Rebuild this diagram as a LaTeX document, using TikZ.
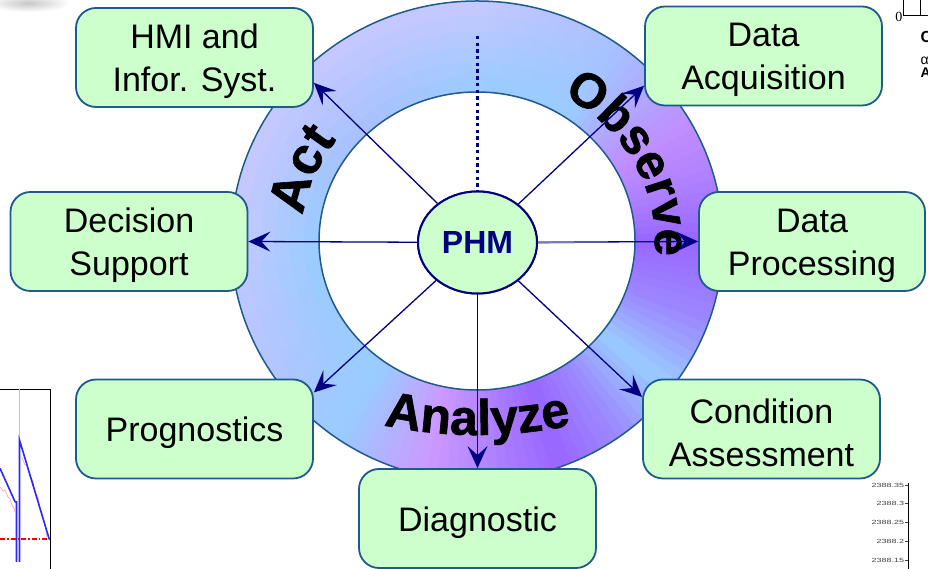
\documentclass[tikz,border=0pt]{standalone}
\usepackage{fontspec}
\setmainfont{Liberation Sans}
\newfontfamily\axisserif{Liberation Serif}
\newfontface\wordface[FakeBold=1.2]{Liberation Sans Bold}
\usetikzlibrary{arrows.meta,shapes.geometric,decorations.text}

\definecolor{navy}{HTML}{000080}
\definecolor{mint}{HTML}{CCFFCC}
\definecolor{edgeblue}{HTML}{1E5A8C}
\definecolor{haze}{HTML}{7B7BC0}
\definecolor{plotblue}{HTML}{2B2BF0}
\definecolor{plotpink}{HTML}{FFA8CC}
% ring gradient key colours
\definecolor{rV}{HTML}{9966FF}
\definecolor{rQ}{HTML}{AD80FF}
\definecolor{rS}{HTML}{C08CFF}
\definecolor{rM}{HTML}{B0A8FF}
\definecolor{rB}{HTML}{99CCFF}
\definecolor{rT}{HTML}{A8C0FF}
\definecolor{rL}{HTML}{C8C8FF}
\definecolor{rW}{HTML}{B4C4FF}
\definecolor{rP}{HTML}{CC99FF}
\definecolor{rR}{HTML}{9C88FF}

\newcommand\ringfont{\wordface\fontsize{52}{52}\selectfont}
\newcommand\ringfonto{\wordface\fontsize{49}{49}\selectfont}
\newcommand\ringfontb{\wordface\fontsize{50}{50}\selectfont}

\tikzset{
  box/.style={draw=edgeblue, line width=1.8pt, fill=mint, rounded corners=20pt,
    minimum width=237pt, minimum height=99pt, inner sep=0pt},
  boxtext/.style={inner sep=0pt, align=center, yshift=-4pt,
    font=\fontsize{34}{43}\selectfont},
  boxlabel/.style={label={[boxtext]center:{#1}}},
  hub/.style={ellipse, draw=navy, line width=2pt, fill=mint, minimum width=119pt,
    minimum height=102pt, inner sep=0pt, text=navy,
    font=\fontsize{32}{32}\selectfont\bfseries},
  spoke/.style={draw=navy, line width=1.3pt, -{Stealth[length=22pt,width=20pt,inset=9pt]}},
  ringedge/.style={draw=edgeblue, line width=1.5pt},
  ringword/.style={decorate, decoration={text along path, text align=center, text={#1}}},
  fragline/.style={draw=black, line width=0.9pt},
  ticklabel/.style={anchor=east, inner sep=0pt, xscale=1.5, text=black!75,
    font=\fontsize{6}{6}\selectfont},
}

\begin{document}
\begin{tikzpicture}[x=1pt,y=1pt]
\useasboundingbox (0,0) rectangle (928,569);

% soft grey smudge in the upper left corner
\shade[inner color=black!22, outer color=white] (28,566) ellipse [x radius=42, y radius=9];

% plot fragment, lower left
\draw[fragline] (0,180) -- (50,180) -- (50,0);
\draw[red, line width=1.4pt, dash pattern=on 5pt off 2pt on 1.5pt off 2pt] (0,30) -- (50,30);
\draw[plotpink, line width=0.8pt] (0,82) -- (3,78) -- (5,79) -- (8,72) -- (10,70) -- (12,64) -- (14,61) -- (15,57);
\draw[plotpink, line width=0.8pt] (19,180) -- (19,129);
\draw[plotpink, line width=0.8pt] (21.7,112) -- (25,104) -- (27,105) -- (30,92) -- (33,88) -- (35,76)
  -- (38,72) -- (40,60) -- (43,50) -- (45,44) -- (47,32);
\draw[plotblue, line width=1.6pt] (0,100.7) -- (15,67.3) -- (16.5,67) -- (16.5,7);
\draw[plotblue, line width=1.6pt] (19.5,7) -- (19.5,129) -- (49.3,29.7);

% plot fragment, upper right
\draw[fragline] (903,569) -- (903,554) -- (928,554);
\draw[fragline] (920,569) -- (920,554);
\node[anchor=base east, inner sep=0pt, font=\axisserif\fontsize{14}{14}\selectfont] (zerolbl) at (902.5,547) {0};
\node[anchor=base west, inner sep=0pt, font=\fontsize{16}{16}\selectfont\bfseries] (cfrag) at (920.5,526) {C};
\node[anchor=base west, inner sep=0pt, font=\fontsize{14}{14}\selectfont] (alphafrag) at (920.5,504) {α};
\node[anchor=base west, inner sep=0pt, font=\fontsize{14}{14}\selectfont\bfseries] (afrag) at (920.5,491) {A};

% axis fragment, lower right
\draw[fragline, line width=0.8pt] (908,86) -- (908,0);
\foreach \v/\yy in {2388.35/84, 2388.3/66, 2388.25/47, 2388.2/28, 2388.15/9}{
  \node[ticklabel] (tick\yy) at (904.5,\yy) {\v};
  \draw[black!75, line width=0.6pt] (905,\yy) -- (908,\yy);
}

% ring with angular colour gradient
\foreach \gA/\gB/\iA/\iB/\oA/\oB in {0/15/rV/rQ/rV/rQ, 15/28/rQ/rS/rQ/rS, 28/42/rS/rM/rS/rM,
    42/55/rM/rB/rM/rT, 55/90/rB/rB/rT/rL, 90/135/rB/rT/rL/rL, 135/180/rT/rB/rL/rL,
    180/215/rB/rB/rL/rW, 215/235/rB/rB/rW/rB, 235/258/rB/rP/rB/rP, 258/275/rP/rQ/rP/rQ,
    275/290/rQ/rV/rQ/rV, 290/305/rV/rR/rV/rR, 305/322/rR/rB/rR/rB, 322/340/rB/rR/rB/rR,
    340/360/rR/rV/rR/rV}{
  \pgfmathtruncatemacro\nN{max(1,round((\gB-\gA)/2.5))}
  \foreach \kk in {1,...,\nN}{
    \pgfmathsetmacro\sA{\gA+(\gB-\gA)*(\kk-1)/\nN}
    \pgfmathsetmacro\sB{\gA+(\gB-\gA)*\kk/\nN+0.4}
    \pgfmathtruncatemacro\tP{100*(\kk-0.5)/\nN}
    \colorlet{cin}{\iB!\tP!\iA}
    \colorlet{cout}{\oB!\tP!\oA}
    \foreach \jj in {1,...,6}{
      \pgfmathsetmacro\rxA{158+88*(\jj-1)/6}
      \pgfmathsetmacro\ryA{149+91*(\jj-1)/6}
      \pgfmathsetmacro\rxB{min(246,158+88*\jj/6+1.5)}
      \pgfmathsetmacro\ryB{min(240,149+91*\jj/6+1.5)}
      \pgfmathtruncatemacro\uP{100*(\jj-0.5)/6}
      \fill[cout!\uP!cin] ({477+\rxA*cos(\sA)},{328+\ryA*sin(\sA)})
        arc[start angle=\sA, end angle=\sB, x radius=\rxA, y radius=\ryA]
        -- ({477+\rxB*cos(\sB)},{328+\ryB*sin(\sB)})
        arc[start angle=\sB, end angle=\sA, x radius=\rxB, y radius=\ryB] -- cycle;
    }
  }
}
\draw[ringedge] (477,328) ellipse [x radius=246, y radius=240];
\draw[ringedge, fill=white] (477,328) ellipse [x radius=158, y radius=149];

% words along the ring
\path[ringword={|\ringfonto|Observe}] ({477+178*cos(64)},{328+166*sin(64)})
  arc[start angle=64, end angle=-8, x radius=178, y radius=166];
\path[ringword={|\ringfont|Act}] ({477+176*cos(200)},{328+168*sin(200)})
  arc[start angle=200, end angle=115, x radius=176, y radius=168];
\path[ringword={|\ringfontb|Analyze}] ({477.5+450*cos(250)},{584+450*sin(250)})
  arc[start angle=250, end angle=290, radius=450];

% nodes
\node[hub] (phm) at (477.5,326.5) {PHM};
\node[box, boxlabel={HMI and\\Infor. Syst.}] (hmi)  at (194.5,511.5) {};
\node[box, boxlabel={Data\\Acquisition}]     (acq)  at (763.5,513)   {};
\node[box, boxlabel={Decision\\Support}]     (dec)  at (129,327.5)   {};
\node[box, minimum width=226pt, boxlabel={Data\\Processing}] (proc) at (812,327.5) {};
\node[box, boxlabel={Prognostics}]           (prog) at (194.5,140)   {};
\node[box, boxlabel={Condition\\Assessment}] (cond) at (761.5,140)   {};
\node[box, boxlabel={Diagnostic}]            (diag) at (477.5,50.5)  {};

% spokes from the hub
\draw[spoke] (phm) -- (hmi.-12);
\draw[spoke] (phm) -- (acq.194);
\draw[spoke] (phm) -- (dec.east);
\draw[spoke] (phm) -- (proc.west);
\draw[spoke] (phm) -- (prog.17);
\draw[spoke] (phm) -- (cond.165);
\draw[spoke] (phm) -- (diag.north);
\coordinate (fadeend) at (574,326.8);
\draw[haze, line width=2.2pt] (phm.east) -- (fadeend);
\coordinate (dotend) at (477.5,533);
\draw[navy, line width=3.8pt, dash pattern=on 3.4pt off 3.3pt] (dotend) -- (phm.north);

% redraw the hub on top of the spokes
\node[hub] (phmtop) at (477.5,326.5) {PHM};
\end{tikzpicture}
\end{document}
